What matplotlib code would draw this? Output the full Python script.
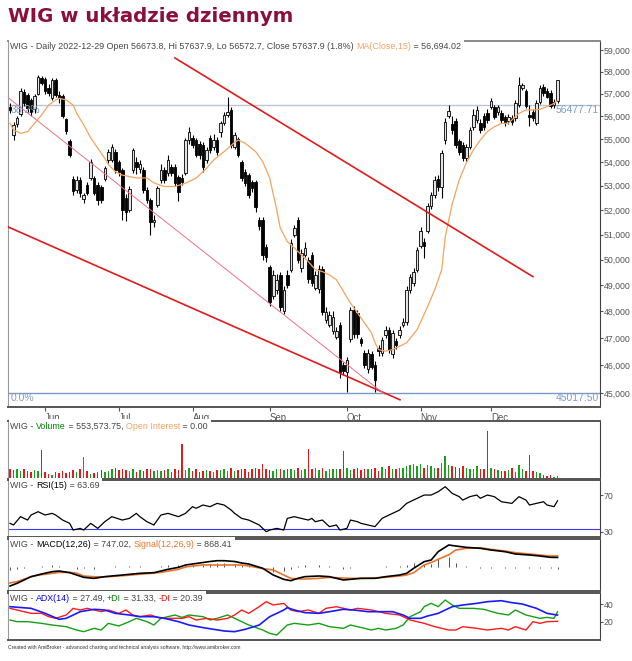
import matplotlib
matplotlib.use("Agg")
import matplotlib.pyplot as plt
import matplotlib.transforms as mtransforms
from matplotlib.patches import Rectangle
from matplotlib.ticker import FixedLocator, FuncFormatter, NullLocator

W, H = 632, 661
plt.rcParams["font.family"] = ["Liberation Sans", "DejaVu Sans"]

# daily bars, 2022-05-18 .. 2022-12-29 (bar index 0..156)
opens = [56420, 55170, 55650, 56100, 57080, 56950, 56700, 56300, 57000, 57700,
         57650, 57250, 56800, 57600, 56950, 56900, 55850, 54900, 53300, 52830,
         53250, 52450, 53040, 53330, 53330, 53040, 52950, 53300, 54100, 54100,
         54430, 54000, 53670, 52500, 52000, 53670, 54000, 53700, 53670, 52830,
         52420, 51500, 52200, 53250, 53670, 53540, 53800, 53800, 53370, 53330,
         53540, 54950, 55040, 54950, 54800, 54740, 54090, 55040, 54650, 54950,
         55300, 55700, 56050, 56270, 54650, 55000, 54000, 53600, 53450, 53150,
         53150, 51600, 51600, 50500, 49700, 48600, 48800, 49400, 48000, 49400,
         49600, 51000, 51600, 49650, 50190, 49990, 50190, 48900, 48860, 49640,
         47680, 47500, 47270, 47050, 47500, 46000, 45750, 46950, 48060, 47950,
         46950, 46450, 45850, 46390, 46020, 46640, 46460, 47120, 47310, 46390,
         46900, 47120, 47500, 47610, 48820, 49100, 49600, 50550, 50700, 51150,
         52180, 52620, 53300, 52950, 54950, 56000, 55650, 55800, 54900, 54740,
         54180, 54650, 55500, 55830, 55700, 56000, 56130, 56400, 56400, 56180,
         56140, 55960, 55780, 55920, 55920, 56490, 57250, 57100, 56050, 56180,
         55700, 56630, 57300, 57120, 57030, 56490, 56673.8]
highs = [56600, 55740, 56000, 57260, 57200, 57050, 56800, 57000, 57850, 57800,
         57750, 57450, 57700, 57700, 57100, 57000, 55900, 55000, 53400, 53400,
         53350, 52700, 53150, 54150, 53400, 53150, 53050, 53850, 54550, 54800,
         54550, 54100, 53750, 52650, 53000, 54600, 54200, 54100, 53800, 52950,
         52500, 51800, 53000, 53900, 53800, 54300, 53900, 53900, 53450, 53500,
         55050, 55500, 55150, 55050, 54900, 54850, 54650, 55150, 55200, 55100,
         55800, 56200, 56850, 56400, 55300, 55100, 54100, 53700, 53550, 53250,
         53250, 51700, 51700, 50600, 49800, 49600, 49450, 49500, 48950, 49600,
         50800, 51400, 51700, 50400, 50700, 50100, 50300, 49550, 49800, 49750,
         48150, 48000, 48000, 47400, 47600, 46100, 46300, 48150, 48200, 48050,
         47050, 46550, 46600, 46500, 46150, 46750, 47050, 47450, 47400, 47300,
         47000, 47450, 47750, 48950, 49450, 49650, 50500, 51300, 50850, 52300,
         52750, 53400, 53450, 54500, 55900, 56500, 56000, 55900, 55000, 54850,
         54800, 55500, 56300, 56450, 55850, 56150, 56300, 56800, 56500, 56500,
         56250, 56050, 56100, 56050, 56700, 57760, 57500, 57200, 56500, 56300,
         56700, 57400, 57450, 57250, 57150, 56750, 57637.9]
lows = [56150, 54950, 55500, 56000, 56450, 56150, 56000, 56150, 56950, 57400,
        57000, 56900, 56700, 56850, 56600, 55900, 55200, 54200, 52600, 52700,
        52550, 52300, 52600, 53250, 52600, 52200, 52300, 53200, 53950, 54000,
        53550, 53400, 51600, 51550, 51900, 53550, 53500, 53550, 52700, 52300,
        50990, 51300, 52100, 53100, 53100, 53400, 53400, 53000, 52350, 53050,
        53450, 54800, 54600, 54200, 54150, 53600, 53950, 54400, 54500, 54300,
        55100, 55600, 55950, 54600, 54550, 54200, 53200, 53000, 52500, 52750,
        51900, 51200, 50000, 49900, 48200, 48450, 48650, 48000, 47900, 48900,
        49500, 50900, 49850, 49500, 50100, 49100, 48950, 48800, 48700, 47850,
        47550, 47400, 47150, 46950, 45550, 45650, 45020, 46850, 47000, 47000,
        46700, 45900, 45700, 45850, 45030, 46350, 46350, 47000, 46450, 46250,
        46600, 47000, 47400, 47500, 48700, 48950, 49500, 50450, 50050, 51050,
        52050, 52500, 52800, 52500, 54800, 55900, 55200, 54600, 54300, 54050,
        54050, 54550, 55400, 55700, 55250, 55400, 55700, 56300, 55850, 56050,
        55700, 55550, 55650, 55600, 55800, 56400, 57150, 56350, 55570, 55800,
        55600, 56550, 56900, 56800, 56350, 56350, 56572.7]
closes = [56270, 55600, 55900, 57100, 56590, 56360, 56200, 56900, 57750, 57500,
          57100, 57050, 57620, 56950, 56800, 56000, 55350, 54300, 52800, 53250,
          52700, 52600, 52700, 54000, 52700, 52420, 52400, 53750, 54430, 54650,
          53670, 53580, 52000, 51900, 52850, 54500, 53800, 53900, 52830, 52420,
          51500, 51600, 52900, 53670, 53250, 54090, 53540, 53120, 52750, 53150,
          54950, 55300, 54740, 54300, 54300, 53800, 54520, 54520, 54950, 54430,
          55700, 56050, 56180, 54740, 55150, 54300, 53330, 53100, 52620, 52900,
          52100, 51350, 50190, 50100, 48350, 49400, 49200, 48150, 48800, 49000,
          50650, 51250, 49990, 50250, 50450, 49240, 49100, 49400, 49640, 47980,
          47980, 47870, 47800, 47270, 45750, 45800, 46200, 48060, 47150, 47150,
          46820, 46020, 46460, 45950, 45480, 46500, 46940, 47310, 46570, 47200,
          46720, 47310, 47610, 48820, 49330, 49500, 50390, 51130, 50550, 52180,
          52620, 53250, 52950, 54400, 55740, 56220, 55400, 54740, 54430, 54180,
          54650, 55400, 56050, 56270, 55390, 55520, 55830, 56670, 55960, 56400,
          55830, 55700, 55960, 55740, 56580, 57390, 57390, 56440, 55960, 55920,
          56580, 57260, 57030, 56850, 56440, 56618, 57637.9]
volume_k = [1650, 1500, 1750, 1400, 1600, 1350, 1200, 1500, 1300, 4850,
            1100, 850, 700, 1150, 950, 1300, 1000, 1250, 1450, 1100,
            1600, 3700, 1300, 900, 1050, 1200, 1500, 1250, 1400, 1650,
            1800, 1550, 1700, 1500, 1300, 1650, 1200, 1450, 1350, 1600,
            1750, 1400, 1500, 1300, 1550, 1700, 1250, 1600, 1450, 5850,
            1500, 1800, 1350, 1650, 1200, 1400, 1550, 1300, 1250, 1500,
            1450, 1650, 1300, 1850, 1400, 1550, 1700, 1600, 1250, 1700,
            1850, 1600, 2500, 1700, 1550, 1400, 1650, 1750, 1500, 1600,
            1700, 1550, 1850, 1450, 1600, 5000, 1650, 1800, 1500, 1900,
            1400, 1700, 1600, 1750, 1650, 4700, 1800, 1550, 1700, 1900,
            1450, 1600, 1750, 1650, 1850, 1300, 1950, 1700, 2150, 1600,
            1750, 1900, 1800, 2100, 2300, 2450, 2200, 2500, 1850, 2400,
            2150, 1900, 1800, 2600, 3850, 2300, 2150, 2000, 1850, 2100,
            1900, 1750, 1650, 2200, 1700, 1600, 8000, 1800, 1650, 1500,
            1400, 1300, 1550, 1800, 1250, 2350, 1600, 1400, 4000, 1350,
            1200, 950, 700, 500, 750, 400, 553.57]

month_bars = [10, 31, 52, 74, 96, 117, 137]
month_names = ["Jun", "Jul", "Aug", "Sep", "Oct", "Nov", "Dec"]

ma_bar = [0, 1, 3, 5, 7, 9, 11, 13, 14, 16, 18, 19, 21, 23, 25, 27, 28, 30, 32, 36,
          39, 41, 44, 47, 50, 53, 56, 58, 61, 64, 65, 67, 70, 72, 74, 76, 77, 79, 81, 83,
          85, 87, 89, 91, 93, 95, 97, 99, 101, 103, 104, 105, 107, 109, 111, 113, 116, 119,
          121, 123, 124, 126, 128, 130, 132, 134, 136, 138, 140, 142, 143, 145, 147, 149,
          151, 153, 155, 156]
ma15 = [55680, 55390, 55245, 55315, 55680, 56050, 56490, 56720, 56790, 56720, 56490, 56120,
        55610, 55040, 54600, 54160, 53900, 53600, 53450, 53330, 53330, 53120, 52970, 52970,
        53110, 53320, 53740, 54090, 54450, 54850, 54950, 54810, 54450, 54020, 53320, 52000,
        51260, 50720, 50460, 50190, 49920, 49600, 49530, 49400, 49210, 48760, 48310, 47940,
        47560, 47190, 46820, 46570, 46510, 46570, 46690, 46820, 47310, 48180, 48820, 49600,
        50900, 52250, 53250, 53960, 54520, 54950, 55320, 55530, 55680, 55680, 55830, 56120,
        56270, 56270, 56300, 56420, 56560, 56694.02]

fib_0 = 45017.50
fib_382 = 56477.71

# trend lines: (bar, price) end points
upper_line_bar = [47.0, 149.0]
upper_line_px = [58630, 49330]
lower_line_bar = [-0.6, 111.1]
lower_line_px = [51310, 44760]
pink_line_bar = [-0.6, 106.8]
pink_line_px = [56830, 44950]

rsi_bar = [0, 1, 3, 5, 6, 8, 10, 12, 13, 15, 17, 18, 20, 21, 23, 25, 27, 29, 32, 34,
           36, 37, 39, 41, 43, 45, 48, 50, 52, 53, 55, 57, 59, 61, 63, 64, 66, 68, 71, 73,
           74, 76, 78, 79, 81, 83, 85, 86, 87, 89, 91, 93, 94, 96, 97, 99, 100, 102, 104, 106,
           107, 109, 111, 113, 116, 118, 120, 121, 122, 124, 126, 128, 129, 131, 133, 134, 136,
           138, 140, 143, 145, 147, 148, 150, 152, 153, 155, 156]
rsi15 = [39.1, 37.3, 46.4, 42.7, 48.2, 51.8, 48.2, 50.0, 48.2, 42.7, 39.1, 31.8, 33.6, 31.8,
         39.1, 33.6, 40.9, 46.4, 42.7, 44.5, 50.0, 46.4, 40.9, 37.3, 48.2, 50.0, 46.4, 50.0,
         57.3, 55.5, 59.1, 57.3, 60.9, 59.1, 53.6, 50.0, 44.5, 42.7, 37.3, 30.0, 31.8, 33.6,
         31.8, 44.5, 46.4, 44.5, 42.7, 44.5, 40.9, 42.7, 35.5, 37.3, 31.8, 33.6, 42.7, 40.9,
         39.1, 37.3, 35.5, 44.5, 46.4, 50.0, 53.6, 60.9, 66.4, 70.0, 70.0, 71.8, 73.6, 79.1,
         71.8, 68.2, 64.5, 68.2, 70.0, 66.4, 70.0, 68.2, 62.7, 60.9, 68.2, 64.5, 59.1, 60.9,
         62.7, 59.1, 57.3, 63.69]
rsi_level = 33

macd_bar = [0, 2, 4, 6, 9, 12, 14, 17, 19, 21, 24, 27, 30, 34, 37, 41, 43, 45, 48, 50,
            52, 55, 57, 59, 61, 64, 66, 68, 72, 75, 78, 80, 82, 84, 88, 91, 95, 97, 100, 104,
            107, 111, 113, 115, 118, 120, 122, 125, 127, 130, 134, 137, 141, 144, 148, 151, 154, 156]
macd = [-1482, -1274, -1014, -754, -546, -364, -312, -442, -624, -806,
        -884, -754, -676, -572, -494, -442, -312, -182, -26, 156,
        234, 351, 429, 491, 491, 429, 312, 234, -101, -624,
        -962, -1069, -884, -754, -702, -754, -1014, -962, -884, -884,
        -754, -624, -494, -104, 416, 546, 1196, 1716, 1638, 1534,
        1456, 1326, 1196, 1014, 936, 858, 754, 747.02]
signal = [-1248, -1144, -950, -754, -600, -494, -420, -420, -480, -702,
          -760, -770, -720, -640, -560, -480, -420, -330, -180, 0,
          80, 160, 160, 156, 156, 160, 156, 80, -120, -234,
          -624, -884, -930, -940, -884, -806, -860, -884, -884, -850,
          -806, -702, -624, -450, 156, 350, 600, 950, 1326, 1456,
          1508, 1378, 1248, 1118, 1014, 936, 858, 868.41]

adx_bar = [0, 6, 10, 14, 16, 20, 24, 27, 30, 34, 37, 41, 44, 48, 51, 55, 58, 61, 64, 67,
           71, 74, 78, 79, 81, 84, 88, 91, 95, 98, 102, 105, 109, 112, 114, 117, 119, 122,
           126, 129, 133, 136, 140, 143, 146, 150, 153, 156]
adx14 = [37.1, 35.2, 29.5, 22.7, 23.8, 31.4, 34.1, 33.3, 29.5, 27.6, 25.7, 25.7, 23.8, 20.0,
         16.2, 13.2, 11.3, 9.4, 8.6, 11.3, 16.2, 25.7, 33.3, 36.0, 33.3, 30.3, 29.5, 31.4, 34.1,
         33.3, 31.4, 31.4, 31.4, 27.6, 23.8, 23.8, 26.5, 29.5, 37.1, 39.0, 40.9, 42.8, 43.9,
         41.7, 40.1, 35.2, 29.5, 27.49]
pdi_bar = [0, 2, 5, 9, 12, 16, 19, 21, 24, 26, 28, 31, 34, 36, 39, 41, 43, 47, 49, 51,
           55, 57, 59, 62, 65, 68, 72, 74, 76, 79, 81, 85, 88, 91, 95, 97, 99, 103, 105, 107,
           110, 112, 114, 117, 118, 120, 122, 124, 126, 128, 132, 135, 139, 142, 144, 147, 149,
           151, 153, 155, 156]
plus_di = [21.9, 20.0, 20.0, 18.1, 16.2, 14.3, 10.5, 8.6, 12.4, 10.5, 18.1, 15.1, 20.0, 23.8,
           20.0, 16.2, 23.8, 27.6, 24.9, 27.6, 25.7, 21.9, 23.8, 27.6, 21.9, 16.2, 10.5, 6.7,
           4.8, 16.2, 18.1, 16.2, 18.1, 14.3, 12.4, 16.2, 14.3, 10.5, 12.4, 10.5, 12.4, 16.2,
           25.7, 31.4, 37.1, 40.9, 37.1, 44.7, 39.0, 35.2, 35.2, 34.1, 29.5, 27.6, 33.3, 27.6,
           25.7, 23.8, 24.9, 23.8, 31.33]
mdi_bar = [0, 2, 4, 6, 9, 11, 13, 16, 18, 20, 22, 26, 28, 31, 33, 35, 37, 40, 43, 45,
           49, 51, 53, 56, 59, 62, 64, 66, 68, 71, 73, 75, 78, 80, 82, 85, 88, 90, 93, 95,
           97, 99, 103, 105, 107, 111, 114, 118, 121, 125, 127, 129, 133, 136, 140, 142, 144,
           147, 149, 151, 153, 156]
minus_di = [35.2, 33.3, 31.4, 29.5, 29.5, 25.7, 23.8, 27.6, 35.2, 33.3, 35.2, 31.4, 33.3, 29.5,
            33.3, 27.6, 25.7, 27.6, 23.8, 23.8, 23.8, 25.7, 21.9, 23.8, 21.9, 23.8, 27.6, 33.3,
            29.5, 37.1, 42.8, 39.0, 40.9, 33.3, 31.4, 33.3, 29.5, 35.2, 37.1, 35.2, 33.3, 35.2,
            33.3, 31.4, 29.5, 27.6, 21.9, 18.1, 14.3, 10.5, 10.5, 14.3, 12.4, 10.5, 12.4, 10.5,
            14.3, 10.5, 20.0, 18.1, 20.0, 20.39]

GREY = "#454545"
ORANGE = "#f4a460"
HDR = 6.4
TICK = 6.3


def pane(fig, top, bottom):
    ax = fig.add_axes([8 / W, 1 - bottom / H, 592 / W, (bottom - top) / H])
    ax.set_xlim(-0.57, 168.1)
    ax.set_xticks([])
    ax.yaxis.tick_right()
    ax.tick_params(axis="y", direction="out", length=2, width=0.8, pad=0.5,
                   colors="#555555", labelsize=TICK)
    ax.spines["left"].set_color("#9a9a9a")
    ax.spines["right"].set_color("#404040")
    ax.spines["top"].set_color("#555555")
    ax.spines["bottom"].set_color("#555555")
    ax.spines["top"].set_linewidth(1.4)
    ax.spines["bottom"].set_linewidth(1.4)
    return ax


def header(fig, ax, parts):
    r = fig.canvas.get_renderer()
    pos = ax.get_position()
    x0 = pos.x0 * W + 2
    y = pos.y1 * H - 5.5

    def width(s):
        t = fig.text(0, 0, s, fontsize=HDR)
        w = t.get_window_extent(r).width
        t.remove()
        return w

    bar_w = width("|")
    full = ""
    for txt, col in parts:
        dx = width(full + "|") - bar_w if full else 0
        fig.text((x0 + dx) / W, y / H, txt, color=col, fontsize=HDR,
                 va="center", ha="left", zorder=6)
        full += txt
    end = x0 + width(full)
    fig.add_artist(Rectangle((pos.x0 + 1 / W, pos.y1 - 3 / H), (end - pos.x0 * W + 2) / W, 5 / H,
                             transform=fig.transFigure, facecolor="white",
                             edgecolor="none", zorder=5))


fig = plt.figure(figsize=(W / 100, H / 100), dpi=100)
fig.patch.set_facecolor("white")

# ---------------- price pane ----------------
ax = pane(fig, 41, 407)
ax.set_yscale("log")
ax.set_ylim(44505, 59421)
ax.yaxis.set_major_locator(FixedLocator(range(45000, 59001, 1000)))
ax.yaxis.set_minor_locator(NullLocator())
ax.yaxis.set_major_formatter(FuncFormatter(lambda v, p: f"{v:,.0f}"))
ax.spines["top"].set_color("#8a8a8a")

ax.axhline(fib_382, color="#b9c7da", lw=1.0, zorder=1)
ax.axhline(fib_0, color="#7a98c4", lw=1.0, zorder=1)
blend = mtransforms.blended_transform_factory(ax.transAxes, ax.transData)
for yv, left, right in [(fib_382, "38.2%", "56477.71"), (fib_0, "0.0%", "45017.50")]:
    ax.text(0.004, yv, left, transform=blend, color="#7f9cc8", fontsize=7.5,
            va="top", ha="left", clip_on=True, zorder=7)
    ax.text(0.998, yv, right, transform=blend, color="#7f9cc8", fontsize=7.5,
            va="top", ha="right", clip_on=True, zorder=7)

bars = range(len(closes))
up = [c >= o for o, c in zip(opens, closes)]
ax.vlines(bars, lows, highs, color="black", lw=0.8, zorder=3)
bottoms = [min(o, c) for o, c in zip(opens, closes)]
heights = [max(abs(c - o), 25) for o, c in zip(opens, closes)]
ax.bar(bars, heights, bottom=bottoms, width=0.72,
       color=["#e3e3e3" if u else "black" for u in up],
       edgecolor="black", linewidth=0.6, zorder=4)

ax.plot(ma_bar, ma15, color=ORANGE, lw=0.9, zorder=5)
ax.plot(upper_line_bar, upper_line_px, color="#e01b1b", lw=1.2, zorder=6)
ax.plot(lower_line_bar, lower_line_px, color="#e01b1b", lw=1.2, zorder=6)
ax.plot(pink_line_bar, pink_line_px, color="#f07088", lw=0.7, zorder=6)

ax.set_xticks(month_bars)
ax.set_xticklabels(month_names)
ax.tick_params(axis="x", direction="out", length=3, width=0.8, pad=1,
               colors="#555555", labelsize=6.9)
for lab in ax.get_xticklabels():
    lab.set_horizontalalignment("left")

# ---------------- volume pane ----------------
axv = pane(fig, 421, 479)
axv.set_ylim(0, 9690)
axv.set_yticks([])
axv.bar(bars, volume_k, width=0.42, linewidth=0,
        color=["#1aa01a" if u else "#e31a1a" for u in up])
axv.hlines(0, 30, 156, color=ORANGE, lw=1.2)

# ---------------- RSI pane ----------------
axr = pane(fig, 480, 537)
axr.set_ylim(24.2, 86.4)
axr.set_yticks([30, 70])
axr.axhline(rsi_level, color="#3a3aff", lw=0.8)
axr.plot(rsi_bar, rsi15, color="black", lw=0.9)

# ---------------- MACD pane ----------------
axm = pane(fig, 539, 591)
axm.set_ylim(-1872, 2184)
axm.set_yticks([])
hist = [m - s for m, s in zip(macd, signal)]
axm.vlines(macd_bar, 0, hist, color="#333333", lw=0.6)
axm.plot(macd_bar, signal, color="#e8742c", lw=1.2)
axm.plot(macd_bar, macd, color="black", lw=1.2)

# ---------------- ADX pane ----------------
axa = pane(fig, 593, 640)
axa.set_ylim(-0.9, 52.7)
axa.set_yticks([20, 40])
axa.plot(pdi_bar, plus_di, color="#14a014", lw=1.0)
axa.plot(mdi_bar, minus_di, color="#ff1a1a", lw=1.0)
axa.plot(adx_bar, adx14, color="#1a1aff", lw=1.2)

# ---------------- titles ----------------
fig.text(8 / W, 1 - 16 / H, "WIG w układzie dziennym", fontsize=14.2, weight="bold",
         color="#8a0f3c", family="DejaVu Sans", va="center", ha="left")

header(fig, ax, [("WIG - Daily 2022-12-29 Open 56673.8, Hi 57637.9, Lo 56572.7, "
                  "Close 57637.9 (1.8%) ", GREY), ("MA(Close,15)", ORANGE),
                 (" = 56,694.02", GREY)])
header(fig, axv, [("WIG - ", GREY), ("Volume", "#008000"), (" = 553,573.75, ", GREY),
                  ("Open Interest", ORANGE), (" = 0.00", GREY)])
header(fig, axr, [("WIG - ", GREY), ("RSI(15)", "black"), (" = 63.69", GREY)])
header(fig, axm, [("WIG - ", GREY), ("MACD(12,26)", "black"), (" = 747.02, ", GREY),
                  ("Signal(12,26,9)", "#e8742c"), (" = 868.41", GREY)])
header(fig, axa, [("WIG - ", GREY), ("ADX(14)", "#0000ff"), (" = 27.49, ", GREY),
                  ("+DI", "#008000"), (" = 31.33, ", GREY), ("-DI", "#ff0000"),
                  (" = 20.39", GREY)])

fig.text(8 / W, 1 - 647 / H,
         "Created with AmiBroker - advanced charting and technical analysis software. "
         "http://www.amibroker.com", fontsize=3.6, color="#333333", va="center", ha="left")

fig.savefig("out.png", dpi=100, facecolor="white")
